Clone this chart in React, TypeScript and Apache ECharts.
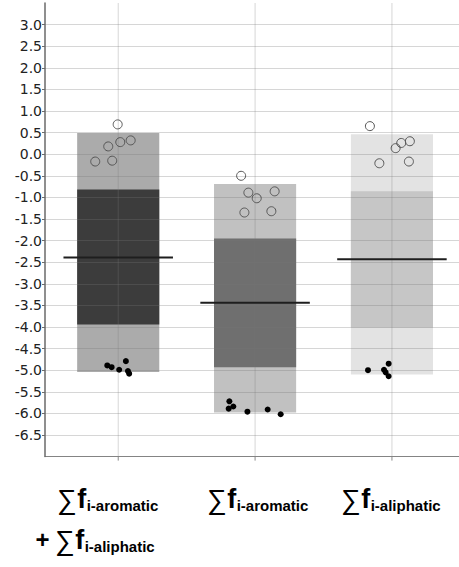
import React, { useEffect, useRef } from 'react';
import * as echarts from 'echarts';

// ---- data ----
const categories = [1, 2, 3];
const outerHigh = [0.49, -0.69, 0.46];
const outerLow = [-5.04, -5.98, -5.1];
const innerHigh = [-0.82, -1.95, -0.86];
const innerLow = [-3.94, -4.93, -4.01];
const means = [-2.39, -3.44, -2.43];

// open circles: [offset from category, value]
const openPoints1 = [[-0.004, 0.69], [-0.073, 0.18], [0.015, 0.28], [0.091, 0.32], [-0.168, -0.17], [-0.044, -0.15]];
const openPoints2 = [[-0.102, -0.5], [-0.049, -0.89], [0.012, -1.02], [0.143, -0.86], [-0.078, -1.35], [0.119, -1.32]];
const openPoints3 = [[-0.161, 0.65], [0.027, 0.14], [0.068, 0.26], [0.131, 0.3], [-0.092, -0.21], [0.124, -0.17]];
// filled dots
const dotPoints1 = [[-0.08, -4.89], [-0.048, -4.93], [0.007, -4.99], [0.056, -4.79], [0.071, -5.02], [0.08, -5.08]];
const dotPoints2 = [[-0.188, -5.72], [-0.159, -5.84], [-0.193, -5.89], [-0.056, -5.96], [0.092, -5.91], [0.187, -6.02]];
const dotPoints3 = [[-0.175, -5.0], [-0.058, -4.99], [-0.024, -4.85], [-0.046, -5.05], [-0.024, -5.14]];

const labelSubs = [['i-aromatic', 'i-aliphatic'], ['i-aromatic'], ['i-aliphatic']];

// ---- styles ----
const outerColors = ['#ababab', '#c1c1c1', '#e3e3e3'];
const innerColors = ['#3c3c3c', '#6f6f6f', '#c6c6c6'];
const barHalf = 0.3;
const meanHalf = 0.4;

const openGroups = [openPoints1, openPoints2, openPoints3];
const dotGroups = [dotPoints1, dotPoints2, dotPoints3];

const FAM = '"Liberation Sans", Arial, sans-serif';

function textEl(text: string, x: number, y: number, font: string) {
  return {
    type: 'text',
    x,
    y,
    style: {
      text,
      font,
      fill: '#000',
      align: 'left',
      verticalAlign: 'middle',
      textAlign: 'left',
      textVerticalAlign: 'middle',
    },
  };
}

function measure(text: string, font: string) {
  const c = document.createElement('canvas');
  const ctx = c.getContext('2d') as CanvasRenderingContext2D;
  ctx.font = font;
  const m = ctx.measureText(text);
  return { adv: m.width, left: m.actualBoundingBoxLeft || 0, right: m.actualBoundingBoxRight || m.width };
}

export default function App() {
  const ref = useRef<HTMLDivElement>(null);
  useEffect(() => {
    if (!ref.current) return;
    const chart = echarts.init(ref.current, undefined, { renderer: 'svg' });

    const rangeData = (lo: number[], hi: number[]) => categories.map((c, i) => [c, lo[i], hi[i]]);
    const rectItem = (colors: string[]) => (params: any, api: any) => {
      const x = api.value(0);
      const p1 = api.coord([x - barHalf, api.value(2)]);
      const p2 = api.coord([x + barHalf, api.value(1)]);
      return {
        type: 'rect',
        shape: { x: p1[0], y: p1[1], width: p2[0] - p1[0], height: p2[1] - p1[1] },
        style: { fill: colors[params.dataIndex] },
      };
    };

    const openData: number[][] = [];
    openGroups.forEach((g, i) => g.forEach((p) => openData.push([categories[i] + p[0], p[1]])));
    const dotData: number[][] = [];
    dotGroups.forEach((g, i) => g.forEach((p) => dotData.push([categories[i] + p[0], p[1]])));

    // size the summation sign so its visible glyph is ~16px wide
    const m100 = measure('∑', '100px ' + FAM);
    const vis100 = m100.left + m100.right;
    const sumSize = Math.min(30, Math.max(20, vis100 > 0 ? (16 * 100) / vis100 : 28));
    const sumFont = `${sumSize}px ${FAM}`;
    const ms = measure('∑', sumFont);
    const fFont = `bold 27px ${FAM}`;
    const mf = measure('f', fFont);
    const subFont = `bold 15px ${FAM}`;

    // visible left edge of ∑, target left of f, target left of subscript
    const labelX = [[59, 75, 86], [209, 225, 236], [343, 359, 370]];
    const line2X = [57, 73, 84];
    const graphics: any[] = [];
    const pushLabel = (vx: number, fx: number, sx: number, y: number, sub: string) => {
      const xs = vx + ms.left;
      const xf = Math.max(fx, xs + ms.adv + 0.5);
      const xsub = Math.max(sx, xf + mf.adv + 0.5);
      graphics.push(textEl('∑', xs, y, sumFont));
      graphics.push(textEl('f', xf, y, fFont));
      graphics.push(textEl(sub, xsub, y + 6.5, subFont));
    };
    labelSubs.forEach((subs, i) => {
      const [vx, fx, sx] = labelX[i];
      pushLabel(vx, fx, sx, 499, subs[0]);
      if (subs.length > 1) {
        graphics.push(textEl('+', 35.5, 539, `bold 24px ${FAM}`));
        pushLabel(line2X[0], line2X[1], line2X[2], 540, subs[1]);
      }
    });

    chart.setOption({
      animation: false,
      grid: { left: 45, top: 3, width: 414, height: 453.6, containLabel: false },
      xAxis: {
        type: 'value',
        min: 0.465,
        max: 3.49,
        axisLine: { show: true, onZero: false, lineStyle: { color: '#8a8a8a', width: 1 } },
        axisTick: { show: false },
        axisLabel: { show: false },
        splitLine: { show: false },
      },
      yAxis: {
        type: 'value',
        min: -7,
        max: 3.5,
        interval: 0.5,
        z: 3,
        axisLine: { show: true, lineStyle: { color: '#6a6a6a', width: 1.5 } },
        axisTick: { show: true, length: 3, lineStyle: { color: '#6a6a6a' } },
        axisLabel: {
          showMaxLabel: false,
          showMinLabel: false,
          margin: 3,
          color: '#222',
          fontSize: 14,
          fontFamily: '"DejaVu Sans", sans-serif',
          formatter: (v: number) => v.toFixed(1),
        },
        splitLine: {
          show: true,
          showMaxLine: false,
          lineStyle: { color: 'rgba(120,120,120,0.3)', width: 1 },
        },
      },
      graphic: graphics,
      series: [
        {
          type: 'custom',
          z: 1,
          renderItem: rectItem(outerColors),
          data: rangeData(outerLow, outerHigh),
          encode: { x: 0, y: [1, 2] },
        },
        {
          type: 'custom',
          z: 1,
          renderItem: rectItem(innerColors),
          data: rangeData(innerLow, innerHigh),
          encode: { x: 0, y: [1, 2] },
        },
        {
          type: 'custom',
          z: 4,
          clip: false,
          renderItem: (params: any, api: any) => {
            const p = api.coord([api.value(0), 0]);
            const cs = params.coordSys;
            const bottom = cs.y + cs.height;
            return {
              type: 'group',
              children: [
                {
                  type: 'line',
                  shape: { x1: p[0], y1: cs.y, x2: p[0], y2: bottom },
                  style: { stroke: 'rgba(120,120,120,0.3)', lineWidth: 1 },
                },
                {
                  type: 'line',
                  shape: { x1: p[0], y1: bottom, x2: p[0], y2: bottom + 4 },
                  style: { stroke: '#8a8a8a', lineWidth: 1 },
                },
              ],
            };
          },
          data: categories.map((c) => [c, 0]),
          encode: { x: 0, y: 1 },
        },
        {
          type: 'custom',
          z: 5,
          renderItem: (params: any, api: any) => {
            const x = api.value(0);
            const p1 = api.coord([x - meanHalf, api.value(1)]);
            const p2 = api.coord([x + meanHalf, api.value(1)]);
            return {
              type: 'line',
              shape: { x1: p1[0], y1: p1[1], x2: p2[0], y2: p2[1] },
              style: { stroke: '#1e1e1e', lineWidth: 2 },
            };
          },
          data: categories.map((c, i) => [c, means[i]]),
          encode: { x: 0, y: 1 },
        },
        {
          type: 'scatter',
          z: 6,
          symbol: 'circle',
          symbolSize: 9,
          itemStyle: { color: 'rgba(0,0,0,0)', borderColor: '#555', borderWidth: 1, opacity: 1 },
          data: openData,
        },
        {
          type: 'scatter',
          z: 6,
          symbol: 'circle',
          symbolSize: 6,
          itemStyle: { color: '#000', opacity: 1 },
          data: dotData,
        },
      ],
    });
    return () => chart.dispose();
  }, []);
  return (
    <div
      ref={ref}
      style={{ position: 'fixed', left: 0, top: 0, width: 459, height: 567, background: '#fff' }}
    />
  );
}
